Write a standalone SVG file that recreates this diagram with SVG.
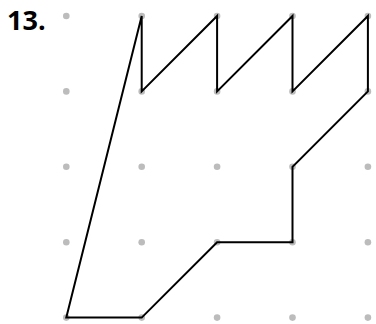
<svg xmlns="http://www.w3.org/2000/svg" width="376" height="324" viewBox="0 0 376 324">
<style>
.dot{fill:#bcbcbc}
.ln{fill:none;stroke:#000;stroke-width:2;stroke-linejoin:miter}
.lbl{font-family:"Open Sans","DejaVu Sans",sans-serif;font-weight:bold;font-size:27px;fill:#000}
</style>
<rect width="376" height="324" fill="#fff"/>
<g id="grid">
<circle class="dot" cx="66.3" cy="16" r="3.3"/><circle class="dot" cx="141.7" cy="16" r="3.3"/><circle class="dot" cx="217.1" cy="16" r="3.3"/><circle class="dot" cx="292.5" cy="16" r="3.3"/><circle class="dot" cx="367.9" cy="16" r="3.3"/>
<circle class="dot" cx="66.3" cy="91.4" r="3.3"/><circle class="dot" cx="141.7" cy="91.4" r="3.3"/><circle class="dot" cx="217.1" cy="91.4" r="3.3"/><circle class="dot" cx="292.5" cy="91.4" r="3.3"/><circle class="dot" cx="367.9" cy="91.4" r="3.3"/>
<circle class="dot" cx="66.3" cy="166.8" r="3.3"/><circle class="dot" cx="141.7" cy="166.8" r="3.3"/><circle class="dot" cx="217.1" cy="166.8" r="3.3"/><circle class="dot" cx="292.5" cy="166.8" r="3.3"/><circle class="dot" cx="367.9" cy="166.8" r="3.3"/>
<circle class="dot" cx="66.3" cy="242.2" r="3.3"/><circle class="dot" cx="141.7" cy="242.2" r="3.3"/><circle class="dot" cx="217.1" cy="242.2" r="3.3"/><circle class="dot" cx="292.5" cy="242.2" r="3.3"/><circle class="dot" cx="367.9" cy="242.2" r="3.3"/>
<circle class="dot" cx="66.3" cy="317.6" r="3.3"/><circle class="dot" cx="141.7" cy="317.6" r="3.3"/><circle class="dot" cx="217.1" cy="317.6" r="3.3"/><circle class="dot" cx="292.5" cy="317.6" r="3.3"/><circle class="dot" cx="367.9" cy="317.6" r="3.3"/>
</g>
<g id="shape">
<polygon class="ln" points="141.7,16 141.7,91.4 217.1,16 217.1,91.4 292.5,16 292.5,91.4 367.9,16 367.9,91.4 292.5,166.8 292.5,242.2 217.1,242.2 141.7,317.6 66.3,317.6"/>
</g>
<text class="lbl" x="7" y="30">13.</text>
</svg>
